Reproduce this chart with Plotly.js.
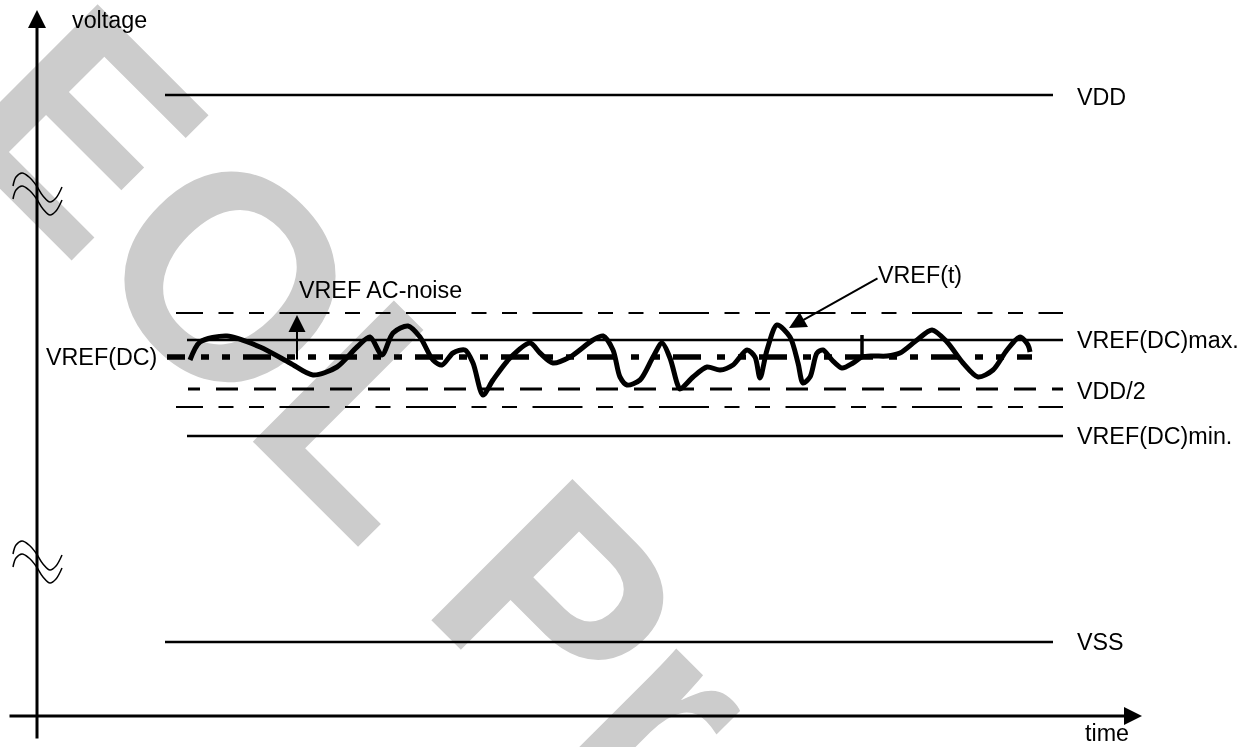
<!DOCTYPE html>
<html>
<head>
<meta charset="utf-8">
<script src="https://cdn.plot.ly/plotly-3.0.1.min.js"></script>
<style>
  html, body { margin: 0; padding: 0; background: #ffffff; }
  #chart { width: 1250px; height: 747px; }
  g.annotation[data-index="0"] { mix-blend-mode: multiply; }
</style>
</head>
<body>
<div id="chart"></div>
<script>
// ---------- data (time units horizontally, voltage units vertically) ----------
const levelNames  = ['VDD', 'VREF AC-noise upper', 'VREF(DC)max.', 'VREF(DC)', 'VDD/2', 'VREF AC-noise lower', 'VREF(DC)min.', 'VSS'];
const levelValues = [652, 434, 407, 390, 358, 340, 311, 105];
const levelStart  = [165, 176, 187, 167, 188, 176, 187, 165];
const levelEnd    = [1053, 1063, 1063, 1032, 1063, 1063, 1063, 1053];

const vrefTime = [190, 200, 227, 260, 290, 313, 337, 357, 370, 382, 393, 408, 420, 433, 442, 453, 465, 473, 483, 493,
                  510, 530, 540, 553, 570, 593, 603, 613, 620, 627, 640, 653, 662, 670, 677, 680, 693, 707, 720, 733,
                  747, 755, 760, 767, 777, 790, 798, 803, 810, 817, 823, 832, 842, 853, 862, 873, 887, 900, 917, 932,
                  947, 963, 978, 993, 1007, 1020, 1028, 1030];
const vrefValue = [387, 405, 411, 400, 384, 372, 380, 400, 410, 392, 414, 421, 410, 387, 382, 394, 397, 384, 352, 367,
                   389, 404, 394, 384, 390, 407, 411, 397, 370, 362, 367, 390, 404, 389, 364, 358, 370, 380, 377, 382,
                   397, 390, 369, 397, 422, 410, 384, 364, 370, 394, 397, 387, 379, 384, 390, 391, 391, 394, 407, 417,
                   405, 384, 370, 377, 397, 410, 402, 395];
const spikeTime  = [862, 862];
const spikeValue = [412, 389];

const breakTime   = [13, 16, 22, 29, 36, 43, 50, 56, 62];
const break1Upper = [561, 570, 574, 570, 562, 551, 545, 549, 560];
const break1Lower = [548, 557, 561, 557, 549, 538, 532, 536, 547];
const break2Upper = [193, 202, 206, 202, 194, 183, 177, 181, 192];
const break2Lower = [180, 189, 193, 189, 181, 170, 164, 168, 179];

const axisTime    = [9, 1142];
const axisVoltage = [8, 737];

const labelTexts  = ['voltage', 'time', 'VDD', 'VREF(DC)max.', 'VDD/2', 'VREF(DC)min.', 'VSS', 'VREF(DC)', 'VREF AC-noise', 'VREF(t)'];

// ---------- styles ----------
const FONT = 'Liberation Sans, Arial, Helvetica, sans-serif';
const levelStyles = [
  { width: 2.5, dash: 'solid' },
  { width: 2, dash: '27px,15.5px,15px,15.5px,15px,15.5px,23px,0px' },
  { width: 2.5, dash: 'solid' },
  { width: 5.5, dash: '18px,16px,8px,13px,8px,13px,10px,0px' },
  { width: 3, dash: '12px,16px,10px,0px' },
  { width: 2, dash: '27px,15.5px,15px,15.5px,15px,15.5px,23px,0px' },
  { width: 2.5, dash: 'solid' },
  { width: 2.5, dash: 'solid' }
];

const traces = [];
// break symbols
[break1Upper, break1Lower, break2Upper, break2Lower].forEach(arr => {
  traces.push({ x: breakTime, y: arr, mode: 'lines', line: { color: '#000', width: 1.5, shape: 'spline', smoothing: 1 }, hoverinfo: 'skip' });
});
// waveform
traces.push({ x: vrefTime, y: vrefValue, mode: 'lines', name: 'VREF(t)', line: { color: '#000', width: 5, shape: 'spline', smoothing: 0.8 }, hoverinfo: 'skip' });
traces.push({ x: spikeTime, y: spikeValue, mode: 'lines', line: { color: '#000', width: 3.5 }, hoverinfo: 'skip' });
// level lines
levelNames.forEach((n, i) => {
  traces.push({
    x: [levelStart[i], levelEnd[i]], y: [levelValues[i], levelValues[i]],
    mode: 'lines', name: n, line: { color: '#000', width: levelStyles[i].width, dash: levelStyles[i].dash }, hoverinfo: 'skip'
  });
});

const annotations = [];
// watermark (index 0)
annotations.push({
  x: 360, y: 341, xref: 'x', yref: 'y', text: 'EOL Pr', showarrow: false, textangle: 45,
  xanchor: 'center', yanchor: 'middle', borderpad: 0,
  font: { family: FONT, size: 290, color: '#cccccc', weight: 'bold' }
});
// axes with arrows
annotations.push({ x: axisTime[1], y: 31, ax: axisTime[0], ay: 31, xref: 'x', yref: 'y', axref: 'x', ayref: 'y',
  text: '', showarrow: true, arrowhead: 2, arrowwidth: 3, arrowsize: 1.2, arrowcolor: '#000', borderpad: 0 });
annotations.push({ x: 37, y: axisVoltage[1], ax: 37, ay: axisVoltage[0], xref: 'x', yref: 'y', axref: 'x', ayref: 'y',
  text: '', showarrow: true, arrowhead: 2, arrowwidth: 3, arrowsize: 1.2, arrowcolor: '#000', borderpad: 0 });
// callout arrows
annotations.push({ x: 297, y: 432, ax: 297, ay: 387, xref: 'x', yref: 'y', axref: 'x', ayref: 'y',
  text: '', showarrow: true, arrowhead: 2, arrowwidth: 2, arrowsize: 1.7, arrowcolor: '#000', borderpad: 0 });
annotations.push({ x: 789, y: 419, ax: 878, ay: 469, xref: 'x', yref: 'y', axref: 'x', ayref: 'y',
  text: '', showarrow: true, arrowhead: 2, arrowwidth: 2, arrowsize: 1.7, arrowcolor: '#000', borderpad: 0 });

// labels
const labelPos = [
  [72, 727.5, 'left'], [1085, 14, 'left'], [1077, 650, 'left'], [1077, 407, 'left'], [1077, 356, 'left'],
  [1077, 311, 'left'], [1077, 105, 'left'], [157, 390, 'right'], [299, 457, 'left'], [878, 472, 'left']
];
labelTexts.forEach((t, i) => {
  annotations.push({
    x: labelPos[i][0], y: labelPos[i][1], xref: 'x', yref: 'y', text: t, showarrow: false,
    xanchor: labelPos[i][2], yanchor: 'middle', borderpad: 0, borderwidth: 0,
    font: { family: FONT, size: 23.3, color: '#000' }
  });
});

const layout = {
  width: 1250, height: 747,
  margin: { l: 0, r: 0, t: 0, b: 0, pad: 0 },
  paper_bgcolor: '#ffffff', plot_bgcolor: '#ffffff',
  showlegend: false, hovermode: false,
  xaxis: { range: [0, 1250], visible: false, fixedrange: true },
  yaxis: { range: [0, 747], visible: false, fixedrange: true },
  annotations: annotations
};

Plotly.newPlot('chart', traces, layout, { staticPlot: true, displayModeBar: false });
</script>
</body>
</html>
